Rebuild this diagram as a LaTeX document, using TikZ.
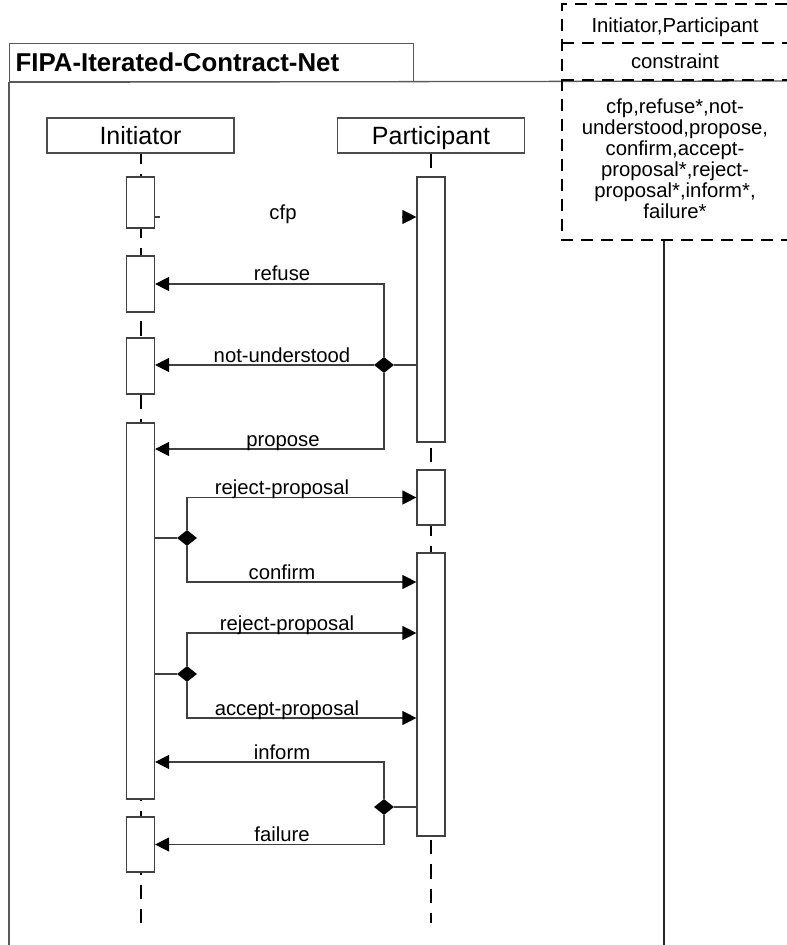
\documentclass[tikz,border=0pt]{standalone}
\usepackage{fontspec}
\setmainfont{Liberation Sans}
\usetikzlibrary{arrows.meta,shapes.geometric}

\begin{document}
\begin{tikzpicture}[x=1pt,y=-1pt,
  frame/.style={draw=black!65,line width=1.3pt},
  head/.style={draw=black!70,line width=1.2pt,minimum width=187pt,minimum height=35pt,
    inner sep=0pt,text height=18pt,text depth=0pt,font=\fontsize{25}{30}\selectfont},
  lifeline/.style={black,line width=2pt,dash pattern=on 14.5pt off 10pt},
  act/.style={draw=black!75,fill=white,line width=1.2pt,minimum width=28pt,inner sep=0pt},
  msgline/.style={draw=black!75,line width=1.2pt},
  msg/.style={msgline,-{Triangle[length=14pt,width=14pt,black]}},
  choice/.style={diamond,fill=black,minimum width=20pt,minimum height=16pt,inner sep=0pt},
  lbl/.style={anchor=base,inner sep=0pt,font=\fontsize{20.3}{24}\selectfont},
  cons/.style={black,line width=1.8pt,dash pattern=on 12pt off 8pt}]
  \useasboundingbox (0,0) rectangle (787,945);

  % frame and title
  \node[frame,anchor=north west,minimum height=38pt,text width=392pt,align=left,
    inner xsep=6pt,inner ysep=0pt,text height=18.5pt,text depth=0pt,
    font=\bfseries\fontsize{25.8}{30}\selectfont] (title) at (9,43) {FIPA-Iterated-Contract-Net};
  \draw[frame] (title.south west) -- (9,945);
  \draw[frame] (title.south west) -- (787,81);
  \draw[frame,draw=black!85,line width=1.5pt] (664,240) -- (664,945);

  % template box (dashed)
  \draw[cons] (787,4) -- (562,4) -- (562,240) -- (787,240);
  \draw[cons] (562,43) -- (787,43);
  \draw[cons] (562,80) -- (787,80);
  \node[lbl] (roles) at (675,32) {Initiator,Participant};
  \node[lbl] (constr) at (675,68) {constraint};
  \node[anchor=base,align=center,text width=224pt,inner sep=0pt,
    font=\fontsize{20.3}{21}\selectfont] (acts) at (675,113)
    {cfp,refuse*,not-\\understood,propose,\\confirm,accept-\\proposal*,reject-\\proposal*,inform*,\\failure*};

  % lifelines
  \node[head] (ini) at (140.5,135.5) {Initiator};
  \node[head] (par) at (431,135.5) {Participant};
  \coordinate (ini-end) at (140.5,923);
  \coordinate (par-end) at (431,923);
  \draw[lifeline,dash phase=4pt] (ini) -- (ini-end);
  \draw[lifeline] (par) -- (par-end);

  % activation boxes
  \foreach \n/\y/\h in {i1/202.5/51pt,i2/284/56pt,i3/366/56pt,i4/611/376pt,i5/844.5/55pt}
    \node[act,minimum height=\h] (\n) at (140.5,\y) {};
  \foreach \n/\y/\h in {p1/309.5/265pt,p2/497.5/55pt,p3/694.5/283pt}
    \node[act,minimum height=\h] (\n) at (431,\y) {};

  % cfp
  \coordinate (cfp-y) at (0,217);
  \path (p1.west |- cfp-y) ++(-14,0) coordinate (cfp-tail);
  \draw[msgline] (i1.east |- cfp-y) -- ++(5,0);
  \draw[msg] (cfp-tail) -- (p1.west |- cfp-y);
  \node[lbl] (l-cfp) at (283,219) {cfp};

  % refuse / not-understood / propose
  \node[choice] (d1) at (384,365) {};
  \coordinate (prop-y) at (0,449);
  \draw[msgline] (p1.west |- d1) -- (d1);
  \draw[msg] (d1) |- (i2.east);
  \draw[msg] (d1) -- (d1 -| i3.east);
  \draw[msg] (d1) |- (i4.east |- prop-y);
  \node[lbl] (l-refuse) at (282,280) {refuse};
  \node[lbl] (l-notund) at (282,362) {not-understood};
  \node[lbl] (l-propose) at (283,446) {propose};

  % reject-proposal / confirm
  \node[choice] (d2) at (187,538) {};
  \coordinate (conf-y) at (0,582);
  \draw[msgline] (i4.east |- d2) -- (d2);
  \draw[msg] (d2) |- (p2.west);
  \draw[msg] (d2) |- (p3.west |- conf-y);
  \node[lbl] (l-rej1) at (282,494) {reject-proposal};
  \node[lbl] (l-confirm) at (282,579) {confirm};

  % reject-proposal / accept-proposal
  \node[choice] (d3) at (187,674) {};
  \coordinate (rej-y) at (0,633);
  \coordinate (acc-y) at (0,718);
  \draw[msgline] (i4.east |- d3) -- (d3);
  \draw[msg] (d3) |- (p3.west |- rej-y);
  \draw[msg] (d3) |- (p3.west |- acc-y);
  \node[lbl] (l-rej2) at (287,630) {reject-proposal};
  \node[lbl] (l-accept) at (287,715) {accept-proposal};

  % inform / failure
  \node[choice] (d4) at (384,807) {};
  \coordinate (inf-y) at (0,762);
  \draw[msgline] (p3.west |- d4) -- (d4);
  \draw[msg] (d4) |- (i4.east |- inf-y);
  \draw[msg] (d4) |- (i5.east);
  \node[lbl] (l-inform) at (282,759) {inform};
  \node[lbl] (l-failure) at (282,841) {failure};
\end{tikzpicture}
\end{document}
